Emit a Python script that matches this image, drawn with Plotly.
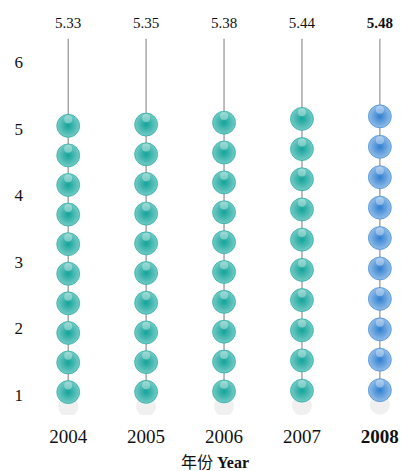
import plotly.graph_objects as go

years = ["2004", "2005", "2006", "2007", "2008"]
values = [5.33, 5.35, 5.38, 5.44, 5.48]
highlight = [False, False, False, False, True]
y_ticks = [1, 2, 3, 4, 5, 6]
n_balls = 10

TEAL = "#14a39a"
TEAL_LIGHT = "#74cbc5"
BLUE = "#2f7fcf"
BLUE_LIGHT = "#93bde9"
FONT = "Liberation Serif"

fig = go.Figure()

line_top = 6.35
label_y = 6.57

for i, (yr, v, hl) in enumerate(zip(years, values, highlight)):
    step = v / 12.0
    ys = [step * (k + 2.35) for k in range(n_balls)]
    # vertical string
    fig.add_trace(go.Scatter(x=[i, i], y=[ys[0], line_top], mode="lines",
                             line=dict(color="#9a9a9a", width=1.3),
                             hoverinfo="skip", showlegend=False))
    # reflection under bottom ball
    fig.add_trace(go.Scatter(x=[i], y=[ys[0] - 0.22], mode="markers",
                             marker=dict(size=20, color="rgba(222,222,222,0.45)",
                                         line=dict(width=0)),
                             hoverinfo="skip", showlegend=False))
    edge = BLUE if hl else TEAL
    center = BLUE_LIGHT if hl else TEAL_LIGHT
    fig.add_trace(go.Scatter(x=[i] * n_balls, y=ys, mode="markers",
                             marker=dict(size=23, color=center,
                                         gradient=dict(type="radial", color=edge),
                                         line=dict(width=0.6, color=edge)),
                             showlegend=False, name=yr))
    # highlight gloss
    fig.add_trace(go.Scatter(x=[i] * n_balls, y=[y + 0.1 for y in ys], mode="markers",
                             marker=dict(size=8, color="rgba(255,255,255,0.35)",
                                         line=dict(width=0)),
                             hoverinfo="skip", showlegend=False))
    # value label
    txt = f"<b>{v:.2f}</b>" if hl else f"{v:.2f}"
    fig.add_trace(go.Scatter(x=[i], y=[label_y], mode="text", text=[txt],
                             textfont=dict(family=FONT, size=15, color="#111"),
                             hoverinfo="skip", showlegend=False))

ticktext = [f"<b>{y}</b>" if hl else y for y, hl in zip(years, highlight)]

fig.update_layout(
    width=402, height=471,
    margin=dict(l=28, r=0, t=10, b=56),
    paper_bgcolor="white", plot_bgcolor="white",
    font=dict(family=FONT, color="#111"),
    xaxis=dict(range=[-0.516, 4.284], tickvals=list(range(len(years))),
               ticktext=ticktext, showgrid=False, zeroline=False, showline=False,
               ticks="", tickfont=dict(size=19, family=FONT),
               ticklabelstandoff=8,
               title=dict(text="年份 <b>Year</b>", standoff=10,
                          font=dict(size=16, family="Liberation Serif, Noto Sans CJK SC"))),
    yaxis=dict(range=[0.7, 6.78], tickvals=y_ticks, showgrid=False, zeroline=False,
               showline=False, ticks="", tickfont=dict(size=17, family=FONT),
               ticklabelstandoff=4),
)

fig.write_html("out.html", config={"displayModeBar": False},
               post_script="document.body.style.margin='0';document.body.style.overflow='hidden';")
